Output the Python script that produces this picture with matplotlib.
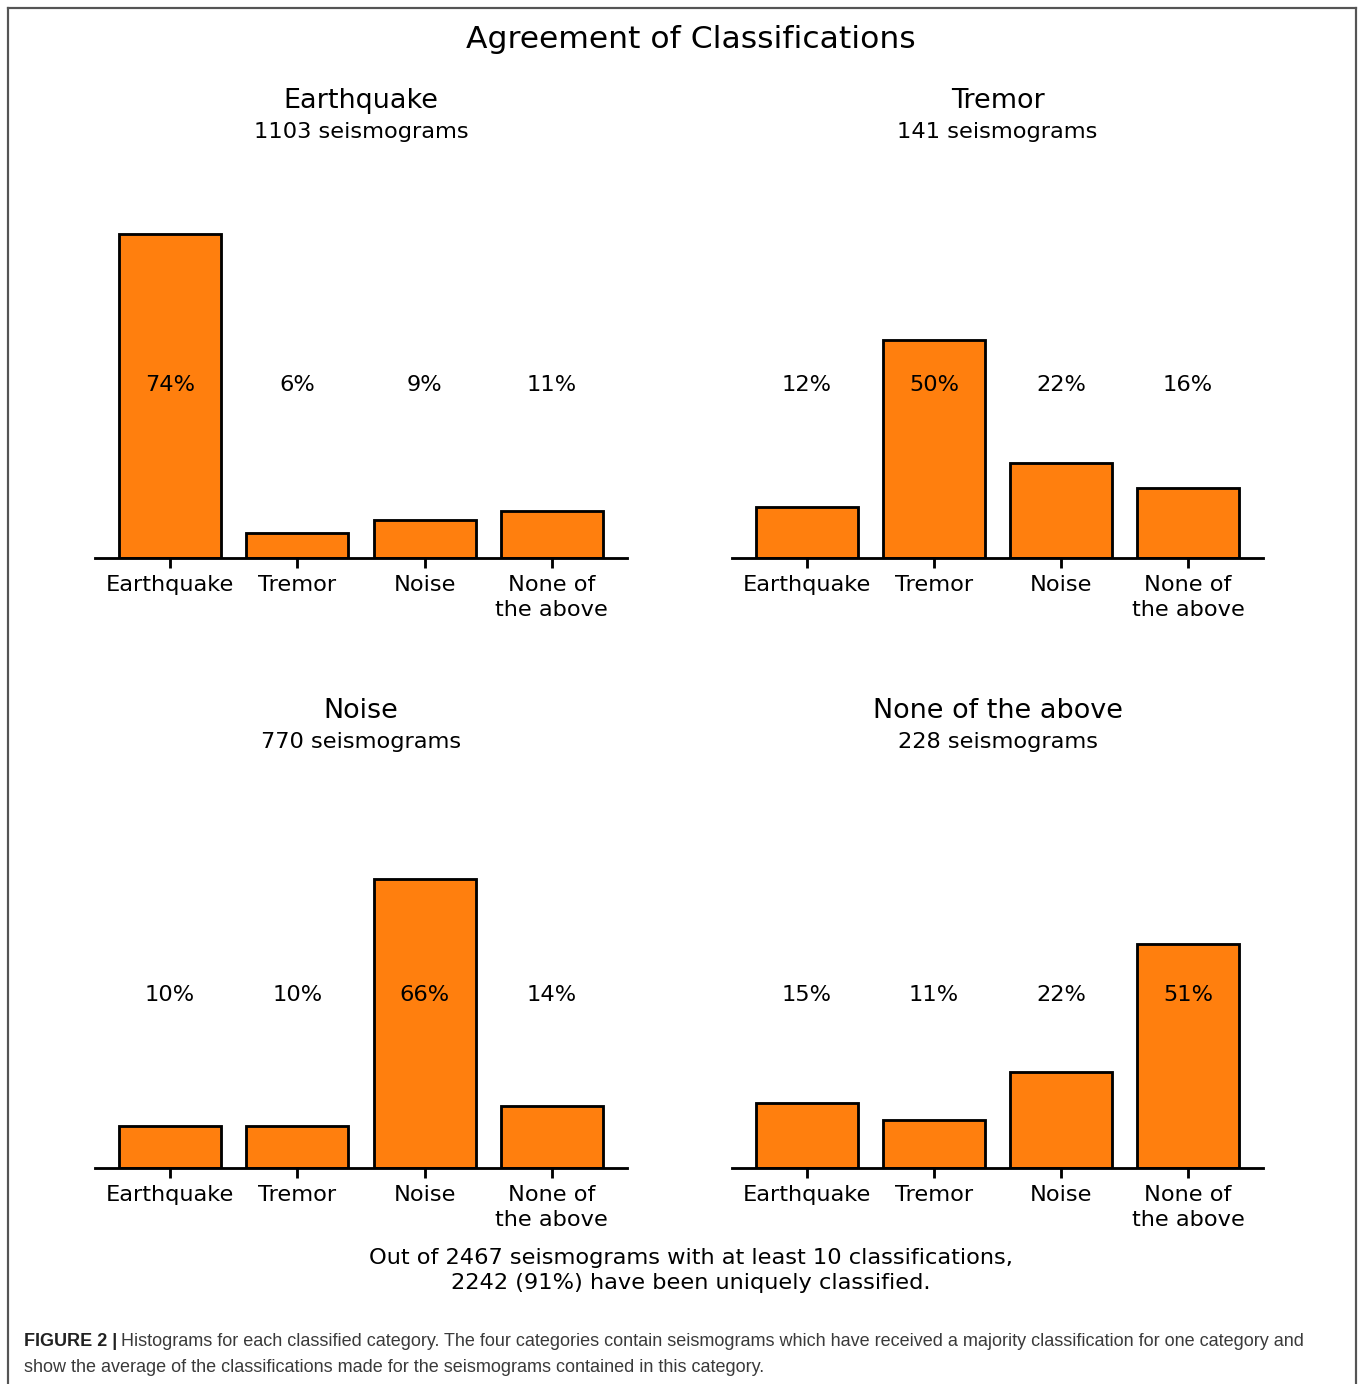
import matplotlib
matplotlib.use("Agg")
import matplotlib.pyplot as plt
from matplotlib.lines import Line2D
from matplotlib import font_manager

# ---------------- data ----------------
categories = ["Earthquake", "Tremor", "Noise", "None of\nthe above"]
panel_titles = ["Earthquake", "Tremor", "Noise", "None of the above"]
panel_counts = [1103, 141, 770, 228]
pct_earthquake = [74.0, 5.7, 8.7, 10.7]
pct_tremor = [11.6, 49.8, 21.6, 16.0]
pct_noise = [9.6, 9.7, 66.0, 14.2]
pct_none = [14.8, 11.0, 21.9, 51.1]
panel_values = [pct_earthquake, pct_tremor, pct_noise, pct_none]
total_seismograms = 2467
unique_seismograms = 2242
unique_pct = 91

W, H = 1358, 1384
DPI = 157
fig = plt.figure(figsize=(W / DPI, H / DPI), dpi=DPI)

def fx(px):
    return px / W

def fy(py):
    return 1 - py / H

base = 10.3
bar_color = "#ff7f0e"
ymax = 80
scale = 4.38  # px per unit
axes_px = [(95, 627, 558), (732, 1263, 558), (95, 627, 1168), (732, 1263, 1168)]

for (x0, x1, yb), title, count, vals in zip(axes_px, panel_titles, panel_counts, panel_values):
    h = ymax * scale
    ax = fig.add_axes([fx(x0), fy(yb), (x1 - x0) / W, h / H])
    xs = list(range(len(categories)))
    ax.bar(xs, vals, width=0.8, color=bar_color, edgecolor="black", linewidth=1.3)
    ax.set_ylim(0, ymax)
    for s in ["top", "left", "right"]:
        ax.spines[s].set_visible(False)
    ax.spines["bottom"].set_linewidth(1.3)
    ax.set_yticks([])
    ax.set_xticks(xs)
    ax.set_xticklabels(categories, fontsize=base, linespacing=1.3)
    ax.tick_params(axis="x", length=4.5, width=1.3, pad=3.3)
    for i, v in enumerate(vals):
        ax.text(i, 39.6, f"{v:.0f}%", ha="center", va="center", fontsize=base)
    xc = fx((x0 + x1) / 2)
    fig.text(xc, fy(yb - 457), title, ha="center", va="center", fontsize=12.4)
    fig.text(xc, fy(yb - 426), f"{count} seismograms", ha="center", va="center", fontsize=base)

fig.text(fx(691), fy(39), "Agreement of Classifications", ha="center", va="center", fontsize=14.4)
fig.text(fx(691), fy(1270.5),
         f"Out of {total_seismograms} seismograms with at least 10 classifications,\n"
         f"{unique_seismograms} ({unique_pct}%) have been uniquely classified.",
         ha="center", va="center", fontsize=base, linespacing=1.3)

# border
bc = "#555555"
fig.add_artist(Line2D([fx(8), fx(8)], [0, fy(8)], color=bc, lw=1.0, transform=fig.transFigure))
fig.add_artist(Line2D([fx(8), fx(1356)], [fy(8), fy(8)], color=bc, lw=1.0, transform=fig.transFigure))
fig.add_artist(Line2D([fx(1356), fx(1356)], [0, fy(8)], color=bc, lw=1.0, transform=fig.transFigure))

# caption
names = {f.name for f in font_manager.fontManager.ttflist}
cap_font = "Liberation Sans Narrow" if "Liberation Sans Narrow" in names else "Liberation Sans"
cap_color = "#3a3a3a"
renderer = fig.canvas.get_renderer()
line1 = "Histograms for each classified category. The four categories contain seismograms which have received a majority classification for one category and"
line2 = "show the average of the classifications made for the seismograms contained in this category."

def draw_caption(size):
    t1 = fig.text(fx(24), fy(1342), "FIGURE 2 |", ha="left", va="center", fontsize=size,
                  family=cap_font, weight="bold", color="#222222")
    bb = t1.get_window_extent(renderer)
    t2 = fig.text((bb.x1 + 4) / W, fy(1342), line1, ha="left", va="center", fontsize=size,
                  family=cap_font, color=cap_color)
    t3 = fig.text(fx(24), fy(1368), line2, ha="left", va="center", fontsize=size,
                  family=cap_font, color=cap_color)
    return [t1, t2, t3]

size = 8.0
arts = draw_caption(size)
right = arts[1].get_window_extent(renderer).x1
for a in arts:
    a.remove()
size = size * (1310 - 24) / (right - 24)
draw_caption(size)

fig.savefig("out.png", dpi=DPI)
